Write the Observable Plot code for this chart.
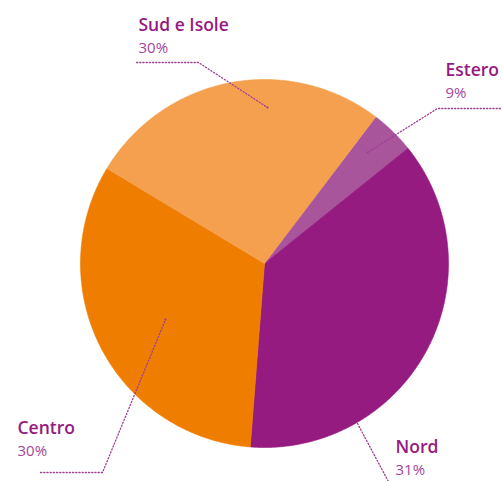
<!DOCTYPE html>
<html>
<head>
<meta charset="utf-8">
<script src="https://cdn.jsdelivr.net/npm/d3@7"></script>
<script src="https://cdn.jsdelivr.net/npm/@observablehq/plot@0.6"></script>
<style>
  html, body { margin: 0; padding: 0; background: #fff; }
  #chart svg { display: block; }
</style>
</head>
<body>
<div id="chart"></div>
<script>
// ---- data ----
const categories = ["Estero", "Nord", "Centro", "Sud e Isole"];
const sliceShares = [3.9, 37.0, 32.4, 26.7];          // slice sizes as drawn (% of circle)
const labelTexts = ["9%", "31%", "30%", "30%"];        // printed percentages
const sliceColors = ["#a9559c", "#951b81", "#ef7d00", "#f4a04f"];

// ---- layout ----
const W = 502, H = 481;
const cx = 264, cy = 263, R = 184;
const startDeg = 37.2;   // angle (clockwise from north) where the first slice starts
const labelPos = {
  "Estero":      {x: 445, y: 75},
  "Nord":        {x: 395, y: 452},
  "Centro":      {x: 17,  y: 433},
  "Sud e Isole": {x: 138, y: 30}
};
const leaderPaths = {
  "Estero":      [[500, 108], [437, 108], [367, 152]],
  "Nord":        [[357, 423], [390, 485]],
  "Centro":      [[40, 472], [102, 472], [165, 319]],
  "Sud e Isole": [[136, 62], [198, 62], [267, 107]]
};

// build slice polygons
const total = d3.sum(sliceShares);
const polys = [];
let a0 = startDeg;
categories.forEach((c, i) => {
  const span = sliceShares[i] / total * 360;
  const a1 = a0 + span;
  polys.push({cat: c, x: cx, y: cy});
  const n = Math.max(4, Math.ceil(span / 0.5));
  for (let k = 0; k <= n; k++) {
    const a = (a0 + span * k / n) * Math.PI / 180;
    polys.push({cat: c, x: cx + R * Math.sin(a), y: cy - R * Math.cos(a)});
  }
  polys.push({cat: c, x: cx, y: cy});
  a0 = a1;
});

const leaders = [];
categories.forEach(c => leaderPaths[c].forEach(([x, y]) => leaders.push({cat: c, x, y})));
const leaderEnds = categories.map(c => { const p = leaderPaths[c]; const e = p[p.length - 1]; return {x: e[0], y: e[1], cat: c}; })
  .filter(d => d.cat !== "Nord");

const names = categories.map(c => ({name: c, x: labelPos[c].x, y: labelPos[c].y}));
const pcts = categories.map((c, i) => ({t: labelTexts[i], x: labelPos[c].x, y: labelPos[c].y + 22.5}));

const chart = Plot.plot({
  width: W, height: H,
  margin: 0,
  x: {domain: [0, W], range: [0, W], axis: null},
  y: {domain: [0, H], range: [0, H], axis: null},
  color: {domain: categories, range: sliceColors},
  style: {background: "#fff"},
  marks: [
    Plot.line(polys, {x: "x", y: "y", z: "cat", fill: "cat", stroke: "cat", strokeWidth: 0.6, curve: "linear-closed"}),
    Plot.line(leaders, {x: "x", y: "y", z: "cat", stroke: "#9e3f94", strokeWidth: 1.3, strokeDasharray: "1.2,2", curve: "linear"}),
    Plot.dot(leaderEnds, {x: "x", y: "y", r: 1.1, fill: "#9e3f94", stroke: null}),
    Plot.text(names, {x: "x", y: "y", text: "name", textAnchor: "start", lineAnchor: "bottom",
      fontSize: 17.5, fontWeight: 600, fontFamily: "Open Sans", fill: "#951b81"}),
    Plot.text(pcts, {x: "x", y: "y", text: "t", textAnchor: "start", lineAnchor: "bottom",
      fontSize: 15, fontWeight: 400, fontFamily: "Open Sans", fill: "#a3479a"})
  ]
});
document.getElementById("chart").appendChild(chart);
</script>
</body>
</html>
